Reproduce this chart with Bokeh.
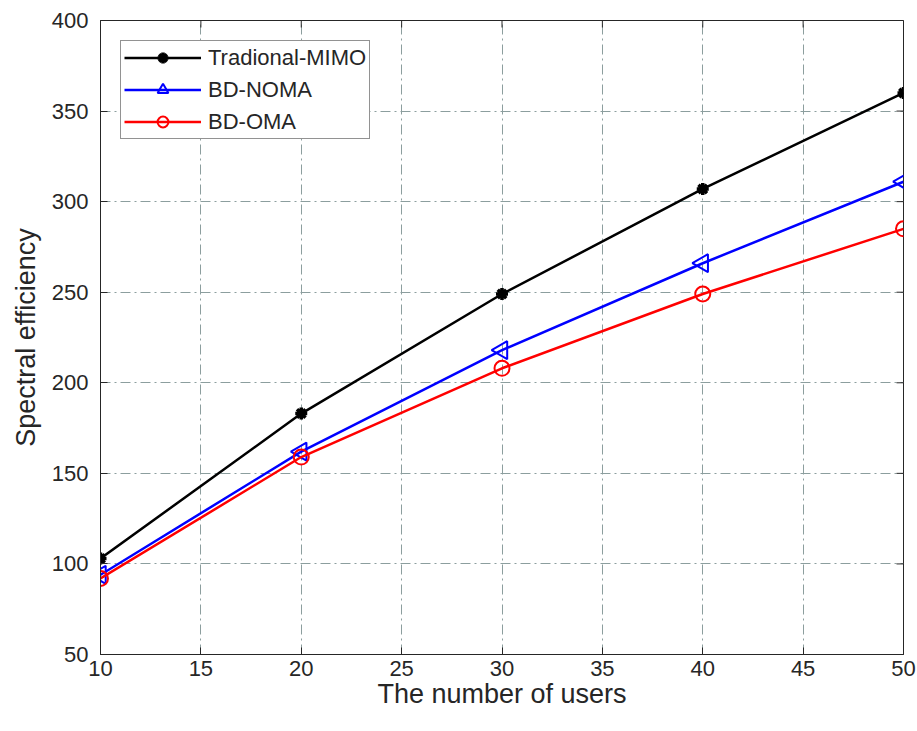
import math

from bokeh.embed import file_html
from bokeh.models import (ColumnDataSource, FixedTicker, Legend, LegendItem,
                          Range1d)
from bokeh.plotting import figure
from bokeh.resources import INLINE

# Number of users and spectral efficiency for each scheme
users = [10, 20, 30, 40, 50]
traditional_mimo = [103, 183, 249, 307, 360]
bd_noma = [94, 162, 218, 266, 311]
bd_oma = [92, 159, 208, 249, 285]

x_ticks = [10, 15, 20, 25, 30, 35, 40, 45, 50]
y_ticks = [50, 100, 150, 200, 250, 300, 350, 400]

FONT = "Liberation Sans"
AXIS_COLOR = "#262626"
GRID_COLOR = "#8c9e9e"
TICK_LEN = 7

x_lo, x_hi = x_ticks[0], x_ticks[-1]
y_lo, y_hi = y_ticks[0], y_ticks[-1]

p = figure(
    width=917, height=731,
    x_range=Range1d(x_lo, x_hi), y_range=Range1d(y_lo, y_hi),
    output_backend="svg", toolbar_location=None,
    min_border_left=100, min_border_right=14,
    min_border_top=20, min_border_bottom=77,
    background_fill_color="white", border_fill_color="white",
)
p.outline_line_color = AXIS_COLOR
p.outline_line_width = 1

# Dash-dot grid
for g in (p.xgrid, p.ygrid):
    g.grid_line_color = GRID_COLOR
    g.grid_line_dash = "10 4 2 4"
    g.grid_line_width = 1
p.xgrid.ticker = FixedTicker(ticks=x_ticks)
p.ygrid.ticker = FixedTicker(ticks=y_ticks)


def style_axis(ax, ticks):
    ax.ticker = FixedTicker(ticks=ticks)
    ax.axis_line_color = AXIS_COLOR
    ax.major_tick_line_color = AXIS_COLOR
    ax.major_tick_in = TICK_LEN
    ax.major_tick_out = 0
    ax.minor_tick_line_color = None
    ax.major_label_text_font = FONT
    ax.major_label_text_color = AXIS_COLOR
    ax.major_label_text_font_size = "22px"
    ax.axis_label_text_font = FONT
    ax.axis_label_text_font_style = "normal"
    ax.axis_label_text_color = AXIS_COLOR
    ax.axis_label_text_font_size = "27px"


style_axis(p.xaxis[0], x_ticks)
style_axis(p.yaxis[0], y_ticks)
p.xaxis[0].axis_label = "The number of users"
p.yaxis[0].axis_label = "Spectral efficiency"
p.xaxis[0].major_label_standoff = 6
p.xaxis[0].axis_label_standoff = 0
p.yaxis[0].major_label_standoff = 12
p.yaxis[0].axis_label_standoff = 8

# Inward tick marks along the top and right edges of the box: a dash centred
# on the edge, whose outer half is clipped away by the plot frame.
p.scatter(x_ticks, [y_hi] * len(x_ticks), marker="dash", size=2 * TICK_LEN,
          angle=math.pi / 2, line_color=AXIS_COLOR, line_width=1)
p.scatter([x_hi] * len(y_ticks), y_ticks, marker="dash", size=2 * TICK_LEN,
          line_color=AXIS_COLOR, line_width=1)

src = ColumnDataSource(dict(x=users, mimo=traditional_mimo,
                            noma=bd_noma, oma=bd_oma))

l1 = p.line("x", "mimo", source=src, line_color="black", line_width=2.5)
m1 = p.scatter("x", "mimo", source=src, marker="asterisk", size=12,
               line_color="black", line_width=3.5)

l2 = p.line("x", "noma", source=src, line_color="blue", line_width=2.5)
m2 = p.scatter("x", "noma", source=src, marker="triangle", size=18,
               angle=math.pi / 2, line_color="blue", line_width=2,
               fill_alpha=0)

l3 = p.line("x", "oma", source=src, line_color="red", line_width=2.5)
m3 = p.scatter("x", "oma", source=src, marker="circle", size=15,
               line_color="red", line_width=2, fill_alpha=0)

legend = Legend(
    items=[
        LegendItem(label="Tradional-MIMO", renderers=[l1, m1]),
        LegendItem(label="BD-NOMA", renderers=[l2, m2]),
        LegendItem(label="BD-OMA", renderers=[l3, m3]),
    ],
    location="top_left", margin=20, padding=3,
    glyph_width=77, glyph_height=27, label_height=27,
    label_standoff=7, spacing=5,
    label_text_font=FONT, label_text_font_size="22px",
    label_text_color=AXIS_COLOR,
    border_line_color=AXIS_COLOR, border_line_width=1,
    background_fill_color="white", background_fill_alpha=1,
)
p.add_layout(legend, "center")

open("out.html", "w").write(file_html(p, INLINE))
